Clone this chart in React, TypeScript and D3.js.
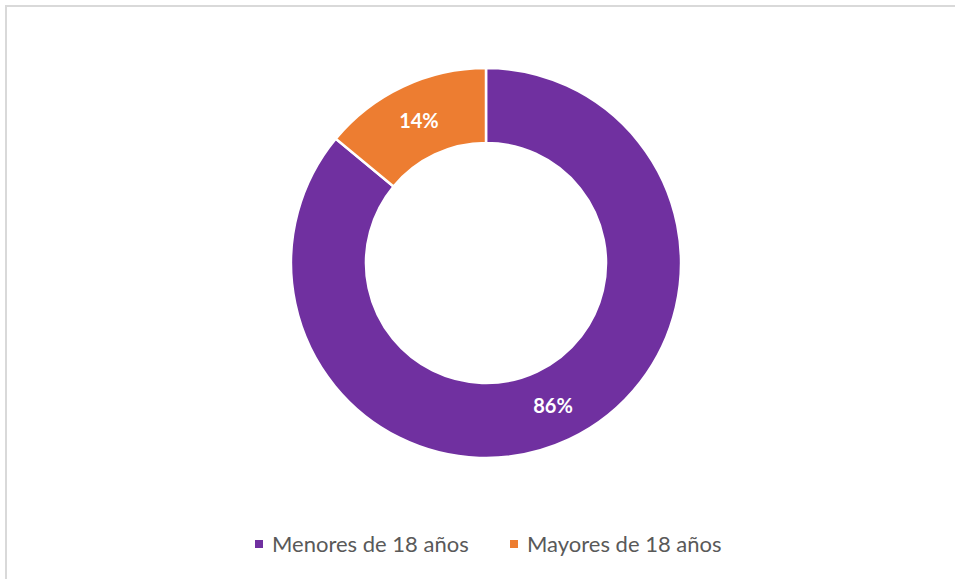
import React from 'react';
import * as d3 from 'd3';

const categories = ['Menores de 18 años', 'Mayores de 18 años'];
const shares = [86, 14];
const colors = ['#7030a0', '#ed7d31'];

const width = 955;
const height = 579;

export default function App() {
    const cx = 486, cy = 263;
    const outer = 195, inner = 120;

    const data = categories.map((name, i) => ({ name, value: shares[i], color: colors[i] }));
    const pie = d3.pie<any>().sort(null).value(d => d.value);
    const arc = d3.arc<any>().outerRadius(outer).innerRadius(inner);
    const slices = pie(data);

    // legend positions
    const legendX = [255, 510];
    const legendY = 544;

    return (
        <svg width={width} height={height} style={{ position: 'absolute', left: 0, top: 0 }}>
            <rect x={0} y={0} width={width} height={height} fill="#fff" />
            <rect x={6} y={6} width={width + 20} height={height + 20} fill="#fff" stroke="#d9d9d9" strokeWidth={2} />
            <g transform={`translate(${cx},${cy})`}>
                {slices.map((s, i) => (
                    <path key={i} d={arc(s) as string} fill={s.data.color} stroke="#fff" strokeWidth={2.5} />
                ))}
                {slices.map((s, i) => {
                    const [x, y] = arc.centroid(s);
                    return (
                        <text key={'l' + i} x={x} y={y} textAnchor="middle" dy="0.35em"
                            fill="#fff" fontFamily="Lato, 'Open Sans', sans-serif" fontWeight="bold" fontSize={20}>
                            {s.data.value}%
                        </text>
                    );
                })}
            </g>
            {data.map((d, i) => (
                <g key={'lg' + i}>
                    <rect x={legendX[i]} y={legendY - 4} width={8} height={8} fill={d.color} />
                    <text x={legendX[i] + 17} y={legendY} dy="0.35em" fill="#595959"
                        fontFamily="Lato, 'Open Sans', sans-serif" fontSize={22}>
                        {d.name}
                    </text>
                </g>
            ))}
        </svg>
    );
}
